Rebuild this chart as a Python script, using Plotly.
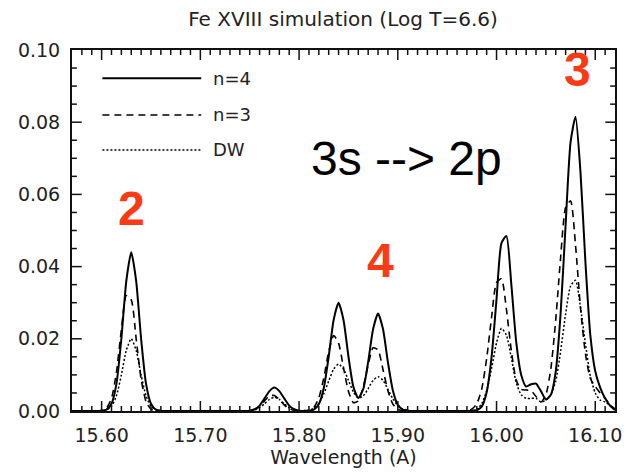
import plotly.graph_objects as go

# Wavelength grid (Angstrom)
wavelength = [
    15.570, 15.575, 15.580, 15.585, 15.590, 15.595, 15.600, 15.605, 15.610, 15.615,
    15.620, 15.625, 15.630, 15.635, 15.640, 15.645, 15.650, 15.655, 15.660, 15.665,
    15.670, 15.675, 15.680, 15.685, 15.690, 15.695, 15.700, 15.705, 15.710, 15.715,
    15.720, 15.725, 15.730, 15.735, 15.740, 15.745, 15.750, 15.755, 15.760, 15.765,
    15.770, 15.775, 15.780, 15.785, 15.790, 15.795, 15.800, 15.805, 15.810, 15.815,
    15.820, 15.825, 15.830, 15.835, 15.840, 15.845, 15.850, 15.855, 15.860, 15.865,
    15.870, 15.875, 15.880, 15.885, 15.890, 15.895, 15.900, 15.905, 15.910, 15.915,
    15.920, 15.925, 15.930, 15.935, 15.940, 15.945, 15.950, 15.955, 15.960, 15.965,
    15.970, 15.975, 15.980, 15.985, 15.990, 15.995, 16.000, 16.005, 16.010, 16.015,
    16.020, 16.025, 16.030, 16.035, 16.040, 16.045, 16.050, 16.055, 16.060, 16.065,
    16.070, 16.075, 16.080, 16.085, 16.090, 16.095, 16.100, 16.105, 16.110, 16.115,
    16.120,
]

# n=4 (solid)
n4 = [
    0, 0, 0, 0, 0, 0, 0.0001, 0.0004, 0.002, 0.0075,
    0.020, 0.036, 0.044, 0.036, 0.020, 0.0075, 0.002, 0.0004, 0.0001, 0,
    0, 0, 0, 0, 0, 0, 0, 0, 0, 0,
    0, 0, 0, 0, 0, 0, 0.0001, 0.0005, 0.0015, 0.0035,
    0.0055, 0.0065, 0.0055, 0.0035, 0.0015, 0.0005, 0.0001, 0, 0.0001, 0.0004,
    0.0019, 0.0063, 0.015, 0.0252, 0.030, 0.0252, 0.0151, 0.0067, 0.0036, 0.0061,
    0.0136, 0.0227, 0.027, 0.0227, 0.0135, 0.0057, 0.0017, 0.0004, 0.0001, 0,
    0, 0, 0, 0, 0, 0, 0, 0, 0, 0,
    0, 0, 0.0002, 0.0012, 0.0052, 0.015, 0.031, 0.0465, 0.0485, 0.035,
    0.019, 0.010, 0.0068, 0.0074, 0.0076, 0.0055, 0.0032, 0.0045, 0.011, 0.0274,
    0.0517, 0.0745, 0.0815, 0.0663, 0.0414, 0.021, 0.011, 0.0065, 0.0035, 0.0015,
    0.0003,
]

# n=3 (dashed)
n3 = [
    0, 0, 0, 0, 0, 0, 0.0002, 0.0008, 0.0035, 0.0107,
    0.0225, 0.032, 0.0308, 0.020, 0.0088, 0.0026, 0.0005, 0.0001, 0, 0,
    0, 0, 0, 0, 0, 0, 0, 0, 0, 0,
    0, 0, 0, 0, 0, 0, 0.0001, 0.0004, 0.0012, 0.0028,
    0.0042, 0.0043, 0.0032, 0.0017, 0.0006, 0.0002, 0, 0.0001, 0.0002, 0.001,
    0.0036, 0.0091, 0.0164, 0.0209, 0.0188, 0.012, 0.0055, 0.0023, 0.0028, 0.0067,
    0.0128, 0.0175, 0.0169, 0.0115, 0.0056, 0.0019, 0.0005, 0.0001, 0, 0,
    0, 0, 0, 0, 0, 0, 0, 0, 0, 0,
    0, 0.0005, 0.002, 0.0061, 0.0145, 0.026, 0.0356, 0.0366, 0.0282, 0.0167,
    0.0085, 0.006, 0.0058, 0.0056, 0.004, 0.0025, 0.0045, 0.0117, 0.0253, 0.0428,
    0.0564, 0.0582, 0.046, 0.0287, 0.016, 0.009, 0.0068, 0.005, 0.0035, 0.0018,
    0.0005,
]

# DW (dotted)
dw = [
    0, 0, 0, 0, 0, 0, 0, 0.0003, 0.0013, 0.0042,
    0.010, 0.0168, 0.020, 0.0168, 0.010, 0.0042, 0.0013, 0.0003, 0, 0,
    0, 0, 0, 0, 0, 0, 0, 0, 0, 0,
    0, 0, 0, 0, 0, 0, 0.0001, 0.0003, 0.0009, 0.002,
    0.0032, 0.0038, 0.0032, 0.002, 0.0009, 0.0003, 0.0001, 0.0001, 0.0002, 0.0008,
    0.0021, 0.0047, 0.0083, 0.0116, 0.013, 0.0116, 0.0085, 0.0053, 0.0036, 0.0042,
    0.0062, 0.0085, 0.0095, 0.0085, 0.006, 0.0034, 0.0015, 0.0006, 0.0002, 0,
    0, 0, 0, 0, 0, 0, 0, 0, 0, 0,
    0, 0.0001, 0.0005, 0.002, 0.0056, 0.0118, 0.0189, 0.0229, 0.021, 0.0147,
    0.0078, 0.0045, 0.0035, 0.0035, 0.0035, 0.0025, 0.003, 0.0045, 0.0083, 0.0167,
    0.0269, 0.0346, 0.0362, 0.0288, 0.0188, 0.0097, 0.005, 0.003, 0.0025, 0.0015,
    0.0005,
]

series_names = ["n=4", "n=3", "DW"]
x_ticks = [15.60, 15.70, 15.80, 15.90, 16.00, 16.10]
y_ticks = [0.00, 0.02, 0.04, 0.06, 0.08, 0.10]
x_range = [15.57, 16.12]
y_range = [0, 0.10]
x_minor_step = 0.01
y_minor_step = 0.005

peak_labels = ["2", "4", "3"]
peak_label_x = [15.630, 15.882, 16.082]
peak_label_y = [0.0560, 0.0418, 0.0945]

FONT = "DejaVu Sans"
TXT = "#222222"
RED = "#FA3A14"
AX = "#111111"

W, H = 624, 465
M = dict(l=56, r=10, t=42, b=62)
PLOT_W = W - M["l"] - M["r"]
PLOT_H = H - M["t"] - M["b"]

fig = go.Figure()
styles = [
    dict(color="black", width=2, dash="solid"),
    dict(color="black", width=1.6, dash="7px,5px"),
    dict(color="black", width=1.5, dash="2px,2px"),
]
for name, ys, st in zip(series_names, [n4, n3, dw], styles):
    fig.add_trace(go.Scatter(
        x=wavelength, y=ys, mode="lines", name=name,
        line=dict(shape="spline", smoothing=0.6, **st),
        showlegend=False,
    ))


# IDL-style inside ticks on all four sides (paper-referenced lengths)
def add_xtick(v, length_px):
    f = length_px / PLOT_H
    for y0, y1 in ((0, f), (1, 1 - f)):
        fig.add_shape(type="line", xref="x", yref="paper", x0=v, x1=v, y0=y0, y1=y1,
                      line=dict(color=AX, width=1.5), layer="above")


def add_ytick(v, length_px):
    f = length_px / PLOT_W
    for x0, x1 in ((0, f), (1, 1 - f)):
        fig.add_shape(type="line", xref="paper", yref="y", x0=x0, x1=x1, y0=v, y1=v,
                      line=dict(color=AX, width=1.5), layer="above")


n_xminor = int(round((x_range[1] - x_range[0]) / x_minor_step))
for i in range(1, n_xminor):
    v = round(x_range[0] + i * x_minor_step, 3)
    is_major = any(abs(v - t) < 1e-6 for t in x_ticks)
    add_xtick(v, 10 if is_major else 5)

n_yminor = int(round((y_range[1] - y_range[0]) / y_minor_step))
for i in range(1, n_yminor):
    v = round(y_range[0] + i * y_minor_step, 4)
    is_major = any(abs(v - t) < 1e-9 for t in y_ticks)
    add_ytick(v, 10 if is_major else 5)

# Legend drawn in the IDL style: long line samples with labels to the right
leg_y = [0.922, 0.820, 0.723]
for name, st, yy in zip(series_names, styles, leg_y):
    fig.add_shape(type="line", xref="paper", yref="paper",
                  x0=0.056, x1=0.238, y0=yy, y1=yy,
                  line=dict(color=st["color"], width=st["width"], dash=st["dash"]))
    fig.add_annotation(xref="paper", yref="paper", x=0.256, y=yy,
                       text=name, showarrow=False, xanchor="left", yanchor="middle",
                       font=dict(family=FONT, size=18, color=TXT))

for t, xx, yy in zip(peak_labels, peak_label_x, peak_label_y):
    fig.add_annotation(x=xx, y=yy, text="<b>%s</b>" % t, showarrow=False,
                       xanchor="center", yanchor="middle",
                       font=dict(family="Liberation Sans", size=48, color=RED))

fig.add_annotation(x=15.909, y=0.0699, text="3s --&gt; 2p", showarrow=False,
                   xanchor="center", yanchor="middle",
                   font=dict(family="Liberation Sans", size=48, color="black"))

axis_common = dict(
    showline=True, linecolor=AX, linewidth=2, mirror=True,
    ticks="", showgrid=False, zeroline=False,
    tickfont=dict(family=FONT, size=19, color=TXT),
)

fig.update_layout(
    width=W, height=H,
    margin=M,
    paper_bgcolor="white", plot_bgcolor="white",
    title=dict(text="Fe XVIII simulation (Log T=6.6)", x=335 / W, xanchor="center",
               y=1 - 11 / H, yanchor="middle", yref="container",
               font=dict(family=FONT, size=20, color=TXT)),
    xaxis=dict(range=x_range, tickvals=x_ticks, tickformat=".2f",
               ticklabelstandoff=6,
               title=dict(text="Wavelength (A)", standoff=4,
                          font=dict(family=FONT, size=19, color=TXT)),
               **axis_common),
    yaxis=dict(range=y_range, tickvals=y_ticks, tickformat=".2f",
               ticklabelstandoff=6, **axis_common),
)

fig.write_html("out.html")
